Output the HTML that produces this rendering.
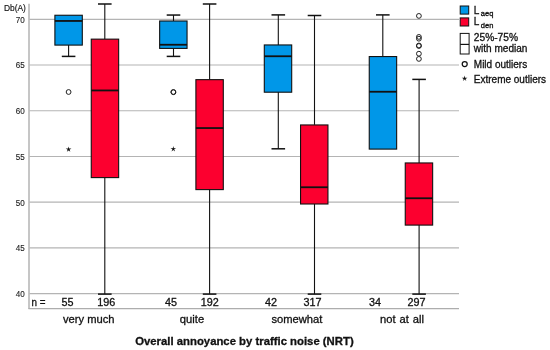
<!DOCTYPE html><html><head><meta charset="utf-8"><title>Boxplot</title>
<style>html,body{margin:0;padding:0;background:#fff}svg{display:block}text{font-family:"Liberation Sans",Arial,sans-serif;fill:#111;stroke:#111;stroke-width:0.3px}</style></head><body>
<svg width="550" height="350" viewBox="0 0 550 350">
<rect width="550" height="350" fill="#fff"/>
<line x1="29" x2="459" y1="19.30" y2="19.30" stroke="#b4b4b4" stroke-width="1.15"/>
<line x1="29" x2="459" y1="65.02" y2="65.02" stroke="#b4b4b4" stroke-width="1.15"/>
<line x1="29" x2="459" y1="110.73" y2="110.73" stroke="#b4b4b4" stroke-width="1.15"/>
<line x1="29" x2="459" y1="156.45" y2="156.45" stroke="#b4b4b4" stroke-width="1.15"/>
<line x1="29" x2="459" y1="202.17" y2="202.17" stroke="#b4b4b4" stroke-width="1.15"/>
<line x1="29" x2="459" y1="247.88" y2="247.88" stroke="#b4b4b4" stroke-width="1.15"/>
<line x1="29" x2="459" y1="293.60" y2="293.60" stroke="#b4b4b4" stroke-width="1.15"/>
<line x1="29" x2="29" y1="3.8" y2="309" stroke="#bcbcbc" stroke-width="1.7"/>
<line x1="28.5" x2="459" y1="308.6" y2="308.6" stroke="#adadad" stroke-width="1.2"/>
<text x="3.9" y="11.3" font-size="9" textLength="22" lengthAdjust="spacingAndGlyphs" style="stroke-width:0.15px">Db(A)</text>
<text x="15.7" y="22.65" font-size="9.2" textLength="9" lengthAdjust="spacingAndGlyphs" style="stroke-width:0.12px;fill:#222;stroke:#222">70</text>
<text x="15.7" y="68.37" font-size="9.2" textLength="9" lengthAdjust="spacingAndGlyphs" style="stroke-width:0.12px;fill:#222;stroke:#222">65</text>
<text x="15.7" y="114.08" font-size="9.2" textLength="9" lengthAdjust="spacingAndGlyphs" style="stroke-width:0.12px;fill:#222;stroke:#222">60</text>
<text x="15.7" y="159.80" font-size="9.2" textLength="9" lengthAdjust="spacingAndGlyphs" style="stroke-width:0.12px;fill:#222;stroke:#222">55</text>
<text x="15.7" y="205.52" font-size="9.2" textLength="9" lengthAdjust="spacingAndGlyphs" style="stroke-width:0.12px;fill:#222;stroke:#222">50</text>
<text x="15.7" y="251.23" font-size="9.2" textLength="9" lengthAdjust="spacingAndGlyphs" style="stroke-width:0.12px;fill:#222;stroke:#222">45</text>
<text x="15.7" y="296.95" font-size="9.2" textLength="9" lengthAdjust="spacingAndGlyphs" style="stroke-width:0.12px;fill:#222;stroke:#222">40</text>
<path d="M68.60 44.8 V56.4" stroke="#111" stroke-width="1.1" fill="none"/><path d="M61.80 56.4 H75.40" stroke="#111" stroke-width="1.5" fill="none"/>
<rect x="54.90" y="15.25" width="27.4" height="29.85" fill="#0097e8" stroke="#111" stroke-width="1.1"/>
<line x1="54.90" x2="82.30" y1="20.95" y2="20.95" stroke="#111" stroke-width="1.8"/>
<path d="M104.80 39.1 V4.0" stroke="#111" stroke-width="1.1" fill="none"/><path d="M98.00 4.0 H111.60" stroke="#111" stroke-width="1.5" fill="none"/>
<path d="M104.80 177.3 V294.1" stroke="#111" stroke-width="1.1" fill="none"/><path d="M98.00 294.1 H111.60" stroke="#111" stroke-width="1.5" fill="none"/>
<rect x="91.25" y="39.15" width="27.4" height="138.45" fill="#fc002f" stroke="#111" stroke-width="1.1"/>
<line x1="91.25" x2="118.65" y1="90.45" y2="90.45" stroke="#111" stroke-width="1.8"/>
<path d="M173.50 20.95 V15.05" stroke="#111" stroke-width="1.1" fill="none"/><path d="M166.70 15.05 H180.30" stroke="#111" stroke-width="1.5" fill="none"/>
<path d="M173.50 48.1 V56.4" stroke="#111" stroke-width="1.1" fill="none"/><path d="M166.70 56.4 H180.30" stroke="#111" stroke-width="1.5" fill="none"/>
<rect x="159.65" y="21.00" width="27.4" height="27.40" fill="#0097e8" stroke="#111" stroke-width="1.1"/>
<line x1="159.65" x2="187.05" y1="44.75" y2="44.75" stroke="#111" stroke-width="1.8"/>
<path d="M209.60 79.6 V4.0" stroke="#111" stroke-width="1.1" fill="none"/><path d="M202.80 4.0 H216.40" stroke="#111" stroke-width="1.5" fill="none"/>
<path d="M209.60 189.3 V294.1" stroke="#111" stroke-width="1.1" fill="none"/><path d="M202.80 294.1 H216.40" stroke="#111" stroke-width="1.5" fill="none"/>
<rect x="195.90" y="79.65" width="27.4" height="109.95" fill="#fc002f" stroke="#111" stroke-width="1.1"/>
<line x1="195.90" x2="223.30" y1="128.05" y2="128.05" stroke="#111" stroke-width="1.8"/>
<path d="M278.30 44.9 V14.9" stroke="#111" stroke-width="1.1" fill="none"/><path d="M271.50 14.9 H285.10" stroke="#111" stroke-width="1.5" fill="none"/>
<path d="M278.30 91.9 V148.8" stroke="#111" stroke-width="1.1" fill="none"/><path d="M271.50 148.8 H285.10" stroke="#111" stroke-width="1.5" fill="none"/>
<rect x="264.30" y="44.95" width="27.4" height="47.25" fill="#0097e8" stroke="#111" stroke-width="1.1"/>
<line x1="264.30" x2="291.70" y1="56.25" y2="56.25" stroke="#111" stroke-width="1.8"/>
<path d="M314.50 124.9 V15.5" stroke="#111" stroke-width="1.1" fill="none"/><path d="M307.70 15.5 H321.30" stroke="#111" stroke-width="1.5" fill="none"/>
<path d="M314.50 203.7 V294.1" stroke="#111" stroke-width="1.1" fill="none"/><path d="M307.70 294.1 H321.30" stroke="#111" stroke-width="1.5" fill="none"/>
<rect x="300.55" y="124.95" width="27.4" height="79.05" fill="#fc002f" stroke="#111" stroke-width="1.1"/>
<line x1="300.55" x2="327.95" y1="187.25" y2="187.25" stroke="#111" stroke-width="1.8"/>
<path d="M382.80 56.5 V14.9" stroke="#111" stroke-width="1.1" fill="none"/><path d="M376.00 14.9 H389.60" stroke="#111" stroke-width="1.5" fill="none"/>
<rect x="369.25" y="56.55" width="27.4" height="92.55" fill="#0097e8" stroke="#111" stroke-width="1.1"/>
<line x1="369.25" x2="396.65" y1="91.75" y2="91.75" stroke="#111" stroke-width="1.8"/>
<path d="M419.10 162.9 V79.4" stroke="#111" stroke-width="1.1" fill="none"/><path d="M412.30 79.4 H425.90" stroke="#111" stroke-width="1.5" fill="none"/>
<path d="M419.10 224.8 V294.1" stroke="#111" stroke-width="1.1" fill="none"/><path d="M412.30 294.1 H425.90" stroke="#111" stroke-width="1.5" fill="none"/>
<rect x="405.25" y="162.95" width="27.4" height="62.15" fill="#fc002f" stroke="#111" stroke-width="1.1"/>
<line x1="405.25" x2="432.65" y1="198.25" y2="198.25" stroke="#111" stroke-width="1.8"/>
<circle cx="68.6" cy="92.0" r="2.4" fill="#fff" stroke="#222" stroke-width="1.0"/>
<polygon points="68.60,146.40 69.18,148.60 71.45,148.47 69.54,149.71 70.36,151.83 68.60,150.39 66.84,151.83 67.66,149.71 65.75,148.47 68.02,148.60" fill="#111"/>
<circle cx="173.3" cy="92.0" r="2.4" fill="#fff" stroke="#222" stroke-width="1.0"/>
<circle cx="173.5" cy="92.2" r="2.4" fill="none" stroke="#222" stroke-width="1.0"/>
<polygon points="173.30,146.00 173.88,148.20 176.15,148.07 174.24,149.31 175.06,151.43 173.30,149.99 171.54,151.43 172.36,149.31 170.45,148.07 172.72,148.20" fill="#111"/>
<circle cx="418.9" cy="15.9" r="2.4" fill="#fff" stroke="#222" stroke-width="1.0"/>
<circle cx="418.9" cy="36.9" r="2.4" fill="#fff" stroke="#222" stroke-width="1.0"/>
<circle cx="418.9" cy="38.7" r="2.4" fill="none" stroke="#222" stroke-width="1.0"/>
<circle cx="418.9" cy="45.5" r="2.4" fill="#fff" stroke="#222" stroke-width="1.0"/>
<circle cx="418.9" cy="46.0" r="2.4" fill="none" stroke="#222" stroke-width="1.0"/>
<circle cx="418.9" cy="53.7" r="2.4" fill="#fff" stroke="#222" stroke-width="1.0"/>
<circle cx="418.9" cy="58.9" r="2.4" fill="#fff" stroke="#222" stroke-width="1.0"/>
<text x="31.5" y="306.2" font-size="11" textLength="14" lengthAdjust="spacingAndGlyphs">n =</text>
<text x="67.5" y="306.2" font-size="10.8" text-anchor="middle">55</text>
<text x="106.2" y="306.2" font-size="10.8" text-anchor="middle">196</text>
<text x="171.0" y="306.2" font-size="10.8" text-anchor="middle">45</text>
<text x="209.8" y="306.2" font-size="10.8" text-anchor="middle">192</text>
<text x="271.0" y="306.2" font-size="10.8" text-anchor="middle">42</text>
<text x="312.6" y="306.2" font-size="10.8" text-anchor="middle">317</text>
<text x="375.0" y="306.2" font-size="10.8" text-anchor="middle">34</text>
<text x="416.6" y="306.2" font-size="10.8" text-anchor="middle">297</text>
<text x="88.7" y="323.3" font-size="11.2" text-anchor="middle" word-spacing="0">very much</text>
<text x="192" y="323.3" font-size="11.2" text-anchor="middle" word-spacing="0">quite</text>
<text x="296.9" y="323.3" font-size="11.2" text-anchor="middle" word-spacing="0">somewhat</text>
<text x="402.0" y="323.3" font-size="11.2" text-anchor="middle" word-spacing="0.9">not at all</text>
<text x="135.2" y="344.8" font-size="11.3" font-weight="bold" textLength="218.5" lengthAdjust="spacingAndGlyphs">Overall annoyance by traffic noise (NRT)</text>
<rect x="460.2" y="6" width="8.5" height="8.1" fill="#0097e8" stroke="#111" stroke-width="1"/>
<rect x="460.2" y="17.9" width="8.5" height="8.1" fill="#fc002f" stroke="#111" stroke-width="1"/>
<text x="473.8" y="13.7" font-size="10">L</text><text x="480.8" y="15.9" font-size="7.5">aeq</text>
<text x="473.8" y="25.3" font-size="10">L</text><text x="480.8" y="27.9" font-size="7.5">den</text>
<rect x="460.2" y="33.4" width="8.9" height="20.6" fill="#fff" stroke="#111" stroke-width="1"/>
<line x1="460.2" x2="469.1" y1="44.4" y2="44.4" stroke="#111" stroke-width="1.2"/>
<text x="473.8" y="40.6" font-size="10.2">25%-75%</text>
<text x="473.8" y="52.3" font-size="10.05">with median</text>
<circle cx="464.7" cy="64.0" r="2.5" fill="#fff" stroke="#111" stroke-width="1.25"/>
<text x="473.8" y="67.6" font-size="10">Mild outliers</text>
<polygon points="464.60,75.60 465.18,77.80 467.45,77.67 465.54,78.91 466.36,81.03 464.60,79.59 462.84,81.03 463.66,78.91 461.75,77.67 464.02,77.80" fill="#111"/>
<text x="473.8" y="82.9" font-size="10">Extreme outliers</text>
</svg></body></html>
